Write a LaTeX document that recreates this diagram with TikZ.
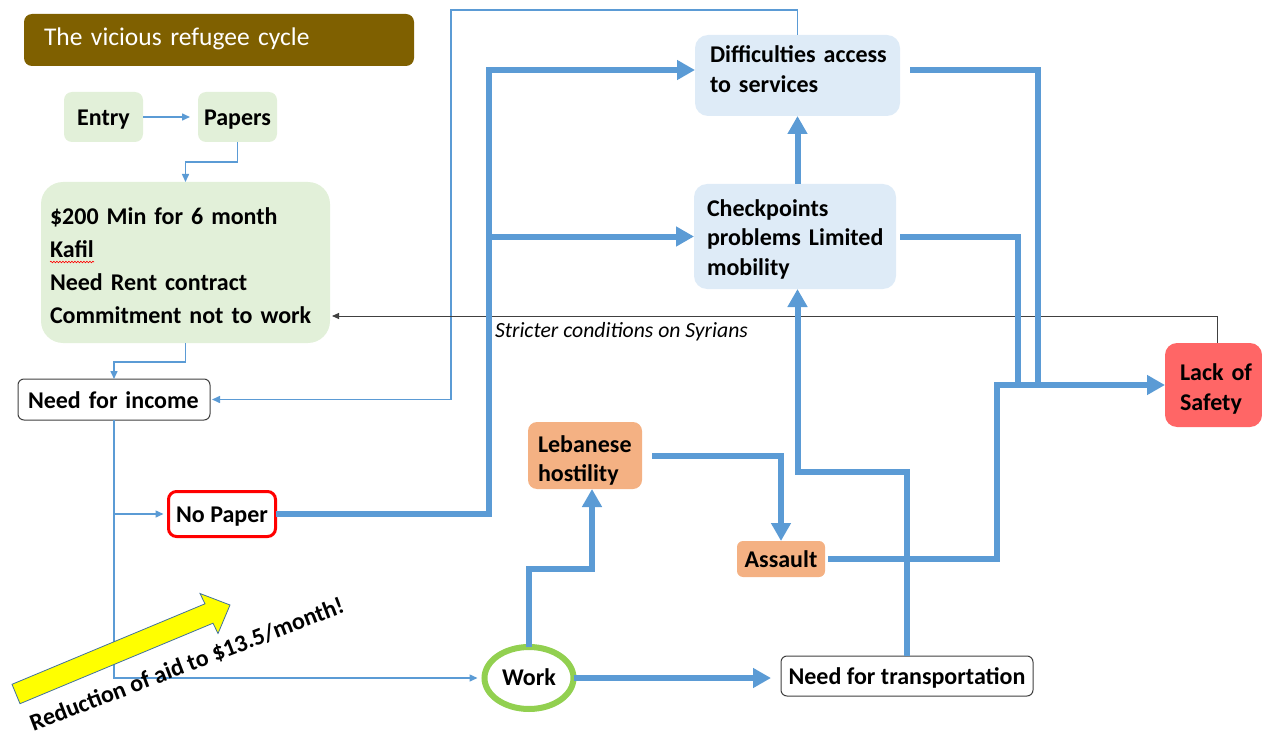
\documentclass[tikz,border=0pt]{standalone}
\usepackage{fontspec}
\setmainfont{Carlito}
\usetikzlibrary{arrows.meta,shapes.geometric,decorations.pathmorphing}
\definecolor{cblue}{HTML}{5B9BD5}
\definecolor{cgreen}{HTML}{E2F0D9}
\definecolor{clblue}{HTML}{DEEBF7}
\definecolor{corange}{HTML}{F4B183}
\definecolor{cred}{HTML}{FF6666}
\definecolor{ctitle}{HTML}{7F6000}
\definecolor{cring}{HTML}{92D050}
\definecolor{cedge}{HTML}{404040}
\definecolor{cyel}{HTML}{FFFF00}
\definecolor{cyeledge}{HTML}{41719C}
\hyphenpenalty=10000
\exhyphenpenalty=10000
\begin{document}
\begin{tikzpicture}[x=1pt,y=-1pt,
  every node/.style={inner sep=0pt, outer sep=0pt},
  txt/.style={font=\fontsize{24pt}{30pt}\selectfont\bfseries},
  one/.style={text height=17pt, text depth=0pt},
  gbox/.style={txt, fill=cgreen, rounded corners=8pt},
  bbox/.style={txt, fill=clblue, rounded corners=13pt, align=left},
  obox/.style={txt, fill=corange, rounded corners=9pt},
  wbox/.style={txt, fill=white, draw=cedge, line width=1pt, rounded corners=6pt},
  cthin/.style={draw=cblue, line width=1.5pt, -{Triangle[length=8pt,width=7pt]}},
  cthick/.style={draw=cblue, line width=6pt, -{Triangle[length=18pt,width=19pt]}},
  cthickn/.style={draw=cblue, line width=6pt},
  cblack/.style={draw=cedge, line width=1pt, -{Triangle[length=7pt,width=6pt]}},
]
\useasboundingbox (0,0) rectangle (1262,733);

% nodes
\node[fill=ctitle, rounded corners=8pt, minimum height=52pt, text width=350pt, inner xsep=20pt, align=left, text=white, font=\fontsize{25.5pt}{32pt}\selectfont, text height=17pt, text depth=5pt] (title) at (219,40) {The vicious refugee cycle};
\node[gbox, one, minimum width=79pt, minimum height=50pt] (entry) at (103.5,117) {Entry};
\node[gbox, one, minimum width=79pt, minimum height=50pt] (papers) at (237.5,117) {Papers};
\node[gbox, rounded corners=22pt, text width=271pt, inner xsep=9pt, minimum height=161pt, align=left, font=\fontsize{24pt}{32.7pt}\selectfont\bfseries, text height=17pt, text depth=92pt] (req) at (185.5,262.5) {\$200 Min for 6 month\\Kafil\\Need Rent contract\\Commitment not to work};
\node[wbox, one, text width=172pt, inner xsep=10pt, minimum height=41pt, align=left] (income) at (114,399.5) {Need for income};
\node[txt, one, fill=white, draw=red, line width=3pt, rounded corners=8pt, minimum width=107pt, minimum height=45pt] (nopaper) at (222,514) {No Paper};
\node[bbox, text width=175pt, inner xsep=15pt, minimum height=81pt, text height=17pt, text depth=42pt] (diff) at (797.5,75.5) {Difficulties~access\\to services};
\node[bbox, text width=176pt, inner xsep=13pt, minimum height=105pt, font=\fontsize{24pt}{29.5pt}\selectfont\bfseries, text height=17pt, text depth=58pt] (chk) at (795,236.5) {Checkpoints\\problems~Limited\\mobility};
\node[obox, text width=94pt, inner xsep=10pt, minimum height=67pt, align=left, font=\fontsize{24pt}{29pt}\selectfont\bfseries, text height=17pt, text depth=24pt] (leb) at (585,455.5) {Lebanese\\hostility};
\node[obox, one, rounded corners=6pt, minimum width=88pt, minimum height=36pt] (assault) at (781,559) {Assault};
\node[txt, fill=cred, rounded corners=12pt, text width=67pt, inner xsep=15pt, minimum height=84pt, align=left, text height=17pt, text depth=27pt] (safety) at (1213.5,385) {Lack~of\\Safety};
\node[txt, ellipse, draw=cring, line width=6pt, fill=white, minimum width=89pt, minimum height=62pt, text height=15pt, text depth=0pt] (work) at (529,678) {Work};
\node[wbox, one, minimum width=252pt, minimum height=40pt] (trans) at (907,676) {Need for transportation};

% spell-check squiggle under Kafil
\draw[red, line width=0.6pt, decorate, decoration={snake, amplitude=0.8pt, segment length=3pt}] (50,262) -- (94,262);

% thin blue connectors
\draw[cthin, shorten >=8pt] (entry.east) -- (papers.west);
\draw[cthin] (papers.south) -- ++(0,20) -| (req.north);
\draw[cthin] (req.south) -- ++(0,19) -| (income.north);
\draw[cthin, shorten >=7pt] (income.south) |- (work.west);
\draw[cthin, shorten >=5pt] (income.south |- nopaper.west) -- (nopaper.west);
\draw[cthin, shorten >=2pt] (diff.north) |- (451,10) |- (income.east);

% black feedback connector
\draw[cblack, shorten >=2pt] ([xshift=4pt]safety.north) |- (req.east |- 0,316);
\node[font=\fontsize{21.7pt}{26pt}\selectfont\itshape, anchor=base west] (cond) at (495,337) {Stricter conditions on Syrians};

% thick blue connectors
\coordinate (jx) at (489,70);
\coordinate (c1) at (1038,385);
\coordinate (c2) at (1018,385);
\coordinate (jl) at (997,385);
\coordinate (lw) at (592,569);
\draw[cthick] (nopaper.east) -| (jx) -- (jx -| diff.west);
\draw[cthick] (jx |- chk.west) -- (chk.west);
\draw[cthick] (diff.south |- chk.north) -- (diff.south);
\draw[cthickn, shorten <=10pt] (jx -| diff.east) -| (c1);
\draw[cthickn, shorten <=4pt] (chk.east) -| (c2);
\draw[cthick, shorten <=3pt] (assault.east) -| (jl) -- (jl -| safety.west);
\draw[cthick] (work.north) |- (lw) -- (lw |- leb.south);
\draw[cthick, shorten <=10pt] (leb.east) -| (assault.north);
\draw[cthick, shorten >=10pt] (work.east) -- (work.east -| trans.west);
\draw[cthick] (trans.north) |- (diff.south |- 0,472) -- (diff.south |- chk.south);

% yellow arrow
\draw[fill=cyel, draw=cyeledge, line width=0.8pt] (12,684.3) -- (205,603.8) -- (200,593.5) -- (230,605) -- (218,633.5) -- (213,623.2) -- (20,703.7) -- cycle;
\node[txt, rotate=21] (aid) at (187,665) {Reduction of aid to \$13.5/month!};
\end{tikzpicture}
\end{document}
